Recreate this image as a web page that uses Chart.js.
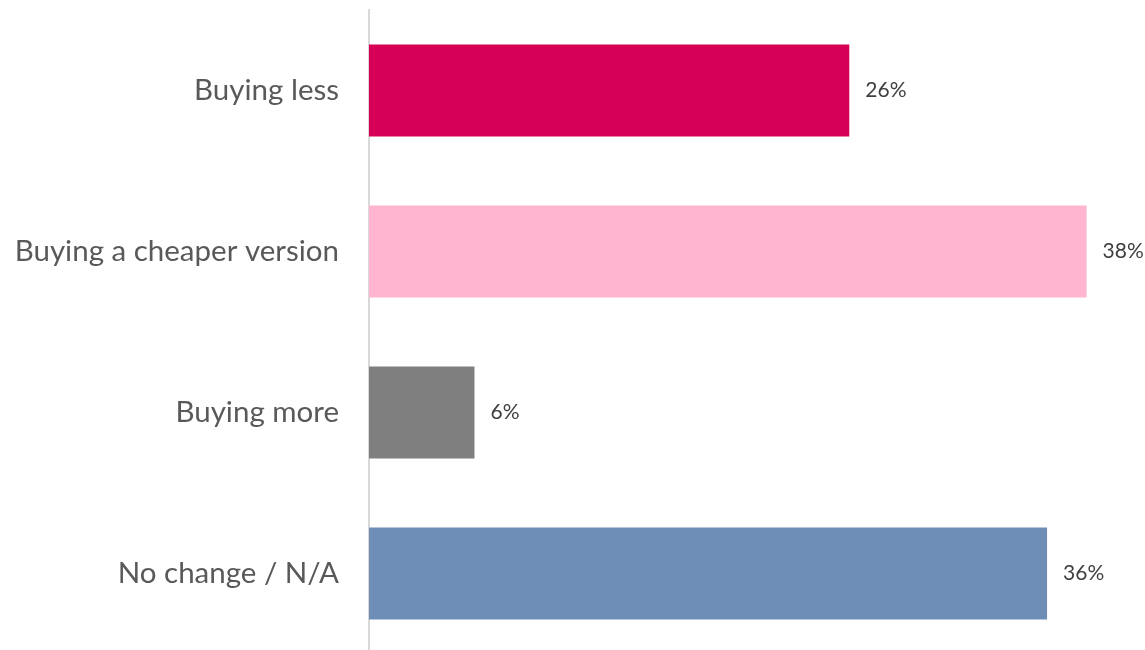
<!DOCTYPE html>
<html>
<head>
<meta charset="utf-8">
<script src="https://cdn.jsdelivr.net/npm/chart.js@4"></script>
<style>
    html, body { margin: 0; padding: 0; background: #fff; overflow: hidden; }
    #wrap { position: relative; width: 1145px; height: 654px; }
</style>
</head>
<body>
<div id="wrap"><canvas id="buyingChart"></canvas></div>
<script>
// Data
const categories = ['Buying less', 'Buying a cheaper version', 'Buying more', 'No change / N/A'];
const shares = [25.5, 38.1, 5.6, 36.0];
const barColors = ['#d60057', '#ffb5cf', '#7f7f7f', '#6e8eb8'];

// Draws the "26%" style labels at the end of each bar
const valueLabels = {
    id: 'valueLabels',
    afterDatasetsDraw(chart) {
        const ctx = chart.ctx;
        const meta = chart.getDatasetMeta(0);
        ctx.save();
        ctx.font = '21px Lato';
        ctx.fillStyle = '#404040';
        ctx.textAlign = 'left';
        ctx.textBaseline = 'middle';
        meta.data.forEach((bar, i) => {
            ctx.fillText(Math.round(shares[i]) + '%', bar.x + 16, bar.y);
        });
        ctx.restore();
    }
};

const ctx = document.getElementById('buyingChart').getContext('2d');
new Chart(ctx, {
    type: 'bar',
    data: {
        labels: categories,
        datasets: [{
            data: shares,
            backgroundColor: barColors,
            borderWidth: 0,
            categoryPercentage: 0.57,
            barPercentage: 1
        }]
    },
    options: {
        indexAxis: 'y',
        responsive: true,
        maintainAspectRatio: false,
        animation: false,
        layout: { padding: { top: 10, right: 0, bottom: 0, left: 0 } },
        plugins: {
            legend: { display: false },
            tooltip: { enabled: false }
        },
        scales: {
            x: {
                display: false,
                min: 0,
                max: 41.2
            },
            y: {
                afterFit(scale) {
                    // fixed axis position, and no extra room above/below for the labels
                    scale.width = 369;
                    scale.paddingTop = 0;
                    scale.paddingBottom = 0;
                },
                grid: { display: false, drawTicks: false },
                border: { display: true, color: '#d9d9d9', width: 2 },
                ticks: {
                    padding: 30,
                    color: '#595959',
                    font: { family: 'Lato', size: 29.5 }
                }
            }
        }
    },
    plugins: [valueLabels]
});
</script>
</body>
</html>
